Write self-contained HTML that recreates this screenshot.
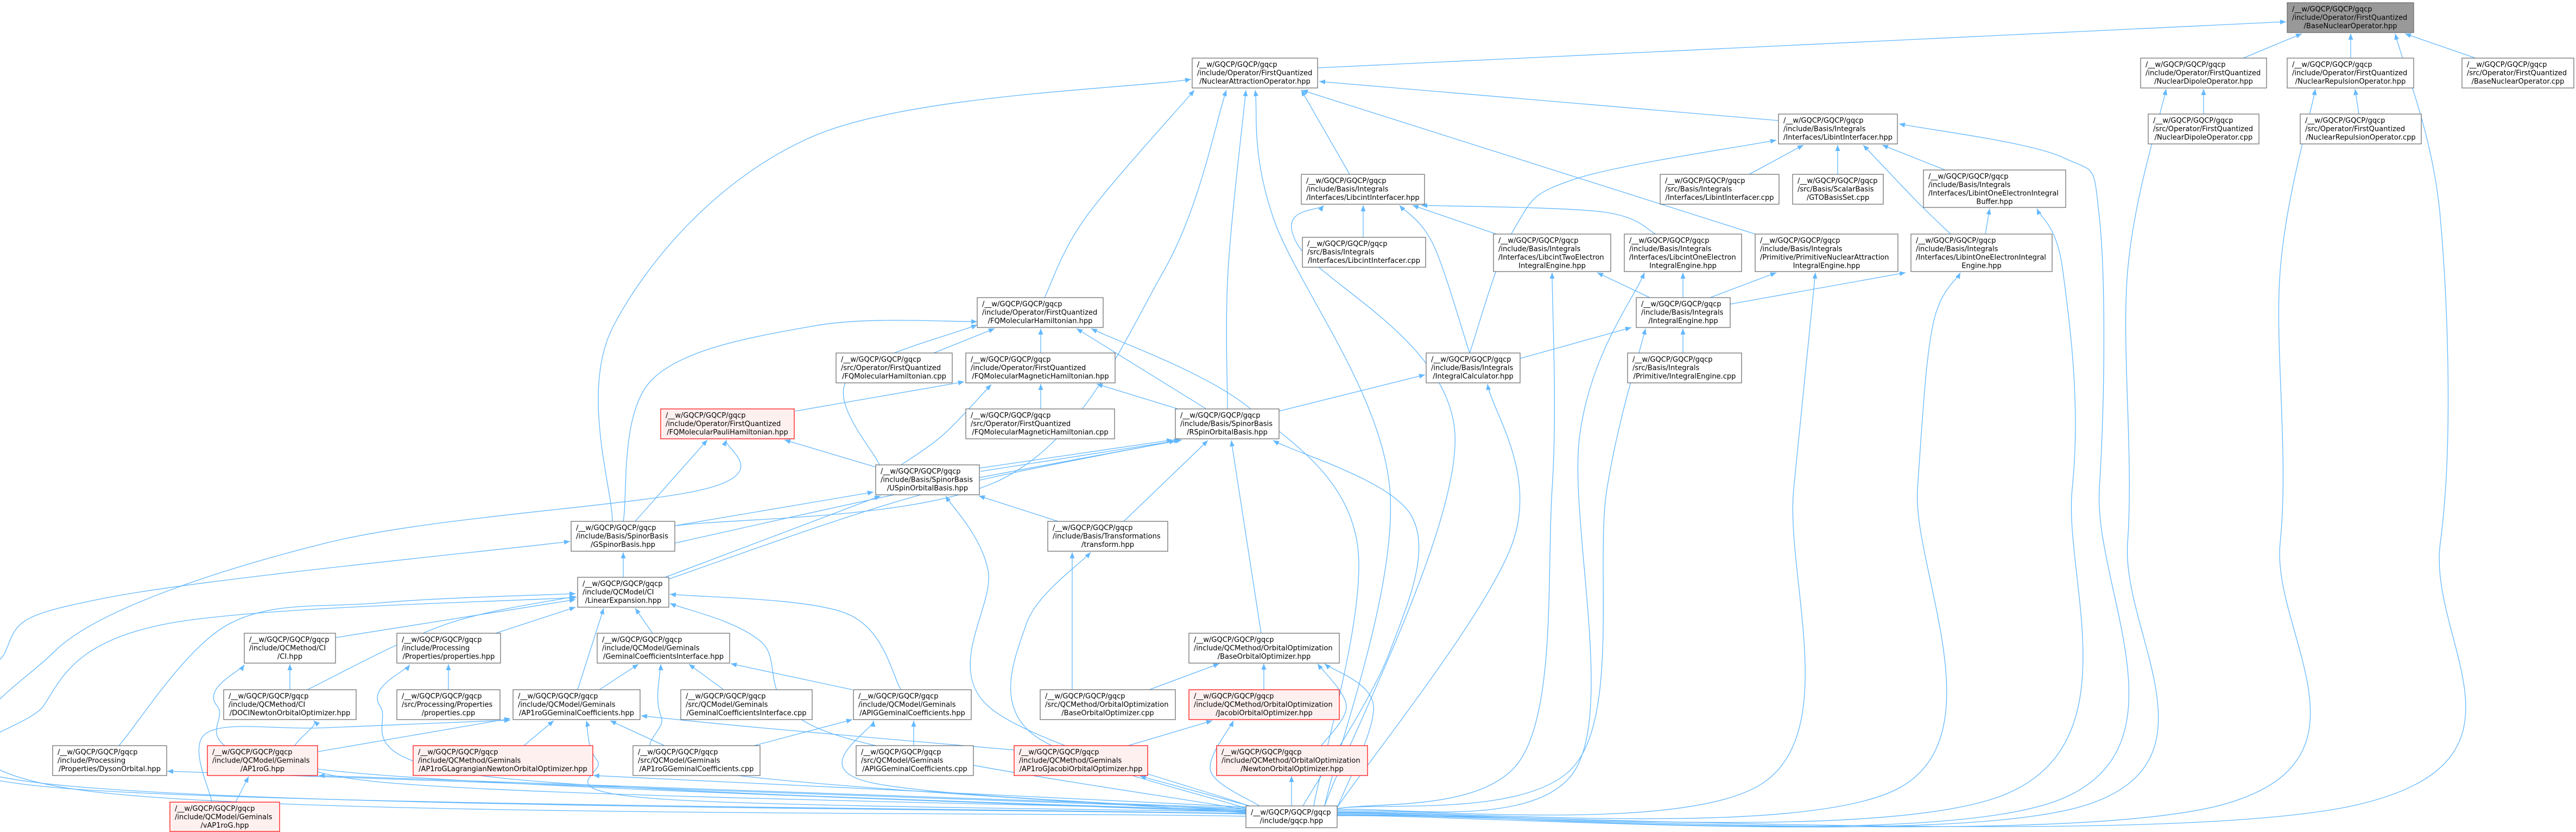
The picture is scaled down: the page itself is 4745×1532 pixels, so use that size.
<!DOCTYPE html>
<html><head><meta charset="utf-8">
<style>
html,body{margin:0;padding:0;background:#fff;}
svg{display:block;}
text{font-family:"DejaVu Sans","Liberation Sans",sans-serif;font-size:13px;fill:#000;}
.n{fill:#fff;stroke:#666;stroke-width:1.2;}
.r{fill:#fff0f0;stroke:#ff0000;stroke-width:1.2;}
.g{fill:#999;stroke:#666;stroke-width:1.2;}
.e{fill:none;stroke:#63b8ff;stroke-width:1.3;}
</style></head>
<body>
<svg id="s" width="4745" height="1532" viewBox="0 0 4745 1532" xmlns="http://www.w3.org/2000/svg">
<defs><marker id="a" markerUnits="userSpaceOnUse" markerWidth="11" markerHeight="9" refX="11" refY="4.5" orient="auto"><path d="M0,0 L11,4.5 L0,9 z" fill="#63b8ff"/></marker></defs>
<g id="edges"></g>
<g id="nodes">
<rect class="g" x="4213" y="5" width="233" height="55"/><text x="4222" y="21">/__w/GQCP/GQCP/gqcp</text><text x="4222" y="36.5">/include/Operator/FirstQuantized</text><text x="4329.5" y="52" text-anchor="middle">/BaseNuclearOperator.hpp</text>
<rect class="n" x="2196" y="107" width="231" height="55"/><text x="2205" y="123">/__w/GQCP/GQCP/gqcp</text><text x="2205" y="138.5">/include/Operator/FirstQuantized</text><text x="2311.5" y="154" text-anchor="middle">/NuclearAttractionOperator.hpp</text>
<rect class="n" x="3943" y="107" width="232" height="55"/><text x="3952" y="123">/__w/GQCP/GQCP/gqcp</text><text x="3952" y="138.5">/include/Operator/FirstQuantized</text><text x="4059" y="154" text-anchor="middle">/NuclearDipoleOperator.hpp</text>
<rect class="n" x="4213" y="107" width="233" height="55"/><text x="4222" y="123">/__w/GQCP/GQCP/gqcp</text><text x="4222" y="138.5">/include/Operator/FirstQuantized</text><text x="4329.5" y="154" text-anchor="middle">/NuclearRepulsionOperator.hpp</text>
<rect class="n" x="4535" y="107" width="206" height="55"/><text x="4544" y="123">/__w/GQCP/GQCP/gqcp</text><text x="4544" y="138.5">/src/Operator/FirstQuantized</text><text x="4638" y="154" text-anchor="middle">/BaseNuclearOperator.cpp</text>
<rect class="n" x="3276" y="210" width="219" height="55"/><text x="3285" y="226">/__w/GQCP/GQCP/gqcp</text><text x="3285" y="241.5">/include/Basis/Integrals</text><text x="3385.5" y="257" text-anchor="middle">/Interfaces/LibintInterfacer.hpp</text>
<rect class="n" x="3957" y="210" width="204" height="55"/><text x="3966" y="226">/__w/GQCP/GQCP/gqcp</text><text x="3966" y="241.5">/src/Operator/FirstQuantized</text><text x="4059" y="257" text-anchor="middle">/NuclearDipoleOperator.cpp</text>
<rect class="n" x="4237" y="210" width="223" height="55"/><text x="4246" y="226">/__w/GQCP/GQCP/gqcp</text><text x="4246" y="241.5">/src/Operator/FirstQuantized</text><text x="4348.5" y="257" text-anchor="middle">/NuclearRepulsionOperator.cpp</text>
<rect class="n" x="2397" y="321" width="227" height="55"/><text x="2406" y="337">/__w/GQCP/GQCP/gqcp</text><text x="2406" y="352.5">/include/Basis/Integrals</text><text x="2510.5" y="368" text-anchor="middle">/Interfaces/LibcintInterfacer.hpp</text>
<rect class="n" x="3058" y="321" width="219" height="55"/><text x="3067" y="337">/__w/GQCP/GQCP/gqcp</text><text x="3067" y="352.5">/src/Basis/Integrals</text><text x="3167.5" y="368" text-anchor="middle">/Interfaces/LibintInterfacer.cpp</text>
<rect class="n" x="3302" y="321" width="167" height="55"/><text x="3311" y="337">/__w/GQCP/GQCP/gqcp</text><text x="3311" y="352.5">/src/Basis/ScalarBasis</text><text x="3385.5" y="368" text-anchor="middle">/GTOBasisSet.cpp</text>
<rect class="n" x="3543" y="313" width="262" height="69"/><text x="3552" y="329">/__w/GQCP/GQCP/gqcp</text><text x="3552" y="344.5">/include/Basis/Integrals</text><text x="3552" y="360">/Interfaces/LibintOneElectronIntegral</text><text x="3674" y="375.5" text-anchor="middle">Buffer.hpp</text>
<rect class="n" x="2399" y="437" width="227" height="55"/><text x="2408" y="453">/__w/GQCP/GQCP/gqcp</text><text x="2408" y="468.5">/src/Basis/Integrals</text><text x="2512.5" y="484" text-anchor="middle">/Interfaces/LibcintInterfacer.cpp</text>
<rect class="n" x="2751" y="431" width="216" height="69"/><text x="2760" y="447">/__w/GQCP/GQCP/gqcp</text><text x="2760" y="462.5">/include/Basis/Integrals</text><text x="2760" y="478">/Interfaces/LibcintTwoElectron</text><text x="2859" y="493.5" text-anchor="middle">IntegralEngine.hpp</text>
<rect class="n" x="2992" y="431" width="216" height="69"/><text x="3001" y="447">/__w/GQCP/GQCP/gqcp</text><text x="3001" y="462.5">/include/Basis/Integrals</text><text x="3001" y="478">/Interfaces/LibcintOneElectron</text><text x="3100" y="493.5" text-anchor="middle">IntegralEngine.hpp</text>
<rect class="n" x="3233" y="431" width="263" height="69"/><text x="3242" y="447">/__w/GQCP/GQCP/gqcp</text><text x="3242" y="462.5">/include/Basis/Integrals</text><text x="3242" y="478">/Primitive/PrimitiveNuclearAttraction</text><text x="3364.5" y="493.5" text-anchor="middle">IntegralEngine.hpp</text>
<rect class="n" x="3520" y="431" width="260" height="69"/><text x="3529" y="447">/__w/GQCP/GQCP/gqcp</text><text x="3529" y="462.5">/include/Basis/Integrals</text><text x="3529" y="478">/Interfaces/LibintOneElectronIntegral</text><text x="3650" y="493.5" text-anchor="middle">Engine.hpp</text>
<rect class="n" x="1800" y="548" width="232" height="55"/><text x="1809" y="564">/__w/GQCP/GQCP/gqcp</text><text x="1809" y="579.5">/include/Operator/FirstQuantized</text><text x="1916" y="595" text-anchor="middle">/FQMolecularHamiltonian.hpp</text>
<rect class="n" x="3014" y="548" width="173" height="55"/><text x="3023" y="564">/__w/GQCP/GQCP/gqcp</text><text x="3023" y="579.5">/include/Basis/Integrals</text><text x="3100.5" y="595" text-anchor="middle">/IntegralEngine.hpp</text>
<rect class="n" x="1540" y="650" width="214" height="55"/><text x="1549" y="666">/__w/GQCP/GQCP/gqcp</text><text x="1549" y="681.5">/src/Operator/FirstQuantized</text><text x="1647" y="697" text-anchor="middle">/FQMolecularHamiltonian.cpp</text>
<rect class="n" x="1779" y="650" width="275" height="55"/><text x="1788" y="666">/__w/GQCP/GQCP/gqcp</text><text x="1788" y="681.5">/include/Operator/FirstQuantized</text><text x="1916.5" y="697" text-anchor="middle">/FQMolecularMagneticHamiltonian.hpp</text>
<rect class="n" x="2627" y="650" width="173" height="55"/><text x="2636" y="666">/__w/GQCP/GQCP/gqcp</text><text x="2636" y="681.5">/include/Basis/Integrals</text><text x="2713.5" y="697" text-anchor="middle">/IntegralCalculator.hpp</text>
<rect class="n" x="2998" y="650" width="210" height="55"/><text x="3007" y="666">/__w/GQCP/GQCP/gqcp</text><text x="3007" y="681.5">/src/Basis/Integrals</text><text x="3103" y="697" text-anchor="middle">/Primitive/IntegralEngine.cpp</text>
<rect class="r" x="1217" y="753" width="246" height="55"/><text x="1226" y="769">/__w/GQCP/GQCP/gqcp</text><text x="1226" y="784.5">/include/Operator/FirstQuantized</text><text x="1340" y="800" text-anchor="middle">/FQMolecularPauliHamiltonian.hpp</text>
<rect class="n" x="1779" y="753" width="274" height="55"/><text x="1788" y="769">/__w/GQCP/GQCP/gqcp</text><text x="1788" y="784.5">/src/Operator/FirstQuantized</text><text x="1916" y="800" text-anchor="middle">/FQMolecularMagneticHamiltonian.cpp</text>
<rect class="n" x="2165" y="753" width="191" height="55"/><text x="2174" y="769">/__w/GQCP/GQCP/gqcp</text><text x="2174" y="784.5">/include/Basis/SpinorBasis</text><text x="2260.5" y="800" text-anchor="middle">/RSpinOrbitalBasis.hpp</text>
<rect class="n" x="1613" y="856" width="191" height="55"/><text x="1622" y="872">/__w/GQCP/GQCP/gqcp</text><text x="1622" y="887.5">/include/Basis/SpinorBasis</text><text x="1708.5" y="903" text-anchor="middle">/USpinOrbitalBasis.hpp</text>
<rect class="n" x="1052" y="960" width="191" height="55"/><text x="1061" y="976">/__w/GQCP/GQCP/gqcp</text><text x="1061" y="991.5">/include/Basis/SpinorBasis</text><text x="1147.5" y="1007" text-anchor="middle">/GSpinorBasis.hpp</text>
<rect class="n" x="1930" y="960" width="221" height="55"/><text x="1939" y="976">/__w/GQCP/GQCP/gqcp</text><text x="1939" y="991.5">/include/Basis/Transformations</text><text x="2040.5" y="1007" text-anchor="middle">/transform.hpp</text>
<rect class="n" x="1064" y="1063" width="168" height="55"/><text x="1073" y="1079">/__w/GQCP/GQCP/gqcp</text><text x="1073" y="1094.5">/include/QCModel/CI</text><text x="1148" y="1110" text-anchor="middle">/LinearExpansion.hpp</text>
<rect class="n" x="450" y="1166" width="168" height="55"/><text x="459" y="1182">/__w/GQCP/GQCP/gqcp</text><text x="459" y="1197.5">/include/QCMethod/CI</text><text x="534" y="1213" text-anchor="middle">/CI.hpp</text>
<rect class="n" x="731" y="1166" width="191" height="55"/><text x="740" y="1182">/__w/GQCP/GQCP/gqcp</text><text x="740" y="1197.5">/include/Processing</text><text x="826.5" y="1213" text-anchor="middle">/Properties/properties.hpp</text>
<rect class="n" x="1100" y="1166" width="244" height="55"/><text x="1109" y="1182">/__w/GQCP/GQCP/gqcp</text><text x="1109" y="1197.5">/include/QCModel/Geminals</text><text x="1222" y="1213" text-anchor="middle">/GeminalCoefficientsInterface.hpp</text>
<rect class="n" x="2190" y="1166" width="277" height="55"/><text x="2199" y="1182">/__w/GQCP/GQCP/gqcp</text><text x="2199" y="1197.5">/include/QCMethod/OrbitalOptimization</text><text x="2328.5" y="1213" text-anchor="middle">/BaseOrbitalOptimizer.hpp</text>
<rect class="n" x="412" y="1270" width="244" height="55"/><text x="421" y="1286">/__w/GQCP/GQCP/gqcp</text><text x="421" y="1301.5">/include/QCMethod/CI</text><text x="534" y="1317" text-anchor="middle">/DOCINewtonOrbitalOptimizer.hpp</text>
<rect class="n" x="731" y="1270" width="190" height="55"/><text x="740" y="1286">/__w/GQCP/GQCP/gqcp</text><text x="740" y="1301.5">/src/Processing/Properties</text><text x="826" y="1317" text-anchor="middle">/properties.cpp</text>
<rect class="n" x="945" y="1270" width="234" height="55"/><text x="954" y="1286">/__w/GQCP/GQCP/gqcp</text><text x="954" y="1301.5">/include/QCModel/Geminals</text><text x="1062" y="1317" text-anchor="middle">/AP1roGGeminalCoefficients.hpp</text>
<rect class="n" x="1254" y="1270" width="242" height="55"/><text x="1263" y="1286">/__w/GQCP/GQCP/gqcp</text><text x="1263" y="1301.5">/src/QCModel/Geminals</text><text x="1375" y="1317" text-anchor="middle">/GeminalCoefficientsInterface.cpp</text>
<rect class="n" x="1572" y="1270" width="217" height="55"/><text x="1581" y="1286">/__w/GQCP/GQCP/gqcp</text><text x="1581" y="1301.5">/include/QCModel/Geminals</text><text x="1680.5" y="1317" text-anchor="middle">/APIGGeminalCoefficients.hpp</text>
<rect class="n" x="1916" y="1270" width="249" height="55"/><text x="1925" y="1286">/__w/GQCP/GQCP/gqcp</text><text x="1925" y="1301.5">/src/QCMethod/OrbitalOptimization</text><text x="2040.5" y="1317" text-anchor="middle">/BaseOrbitalOptimizer.cpp</text>
<rect class="r" x="2190" y="1270" width="277" height="55"/><text x="2199" y="1286">/__w/GQCP/GQCP/gqcp</text><text x="2199" y="1301.5">/include/QCMethod/OrbitalOptimization</text><text x="2328.5" y="1317" text-anchor="middle">/JacobiOrbitalOptimizer.hpp</text>
<rect class="n" x="97" y="1373" width="210" height="55"/><text x="106" y="1389">/__w/GQCP/GQCP/gqcp</text><text x="106" y="1404.5">/include/Processing</text><text x="202" y="1420" text-anchor="middle">/Properties/DysonOrbital.hpp</text>
<rect class="r" x="382" y="1373" width="203" height="55"/><text x="391" y="1389">/__w/GQCP/GQCP/gqcp</text><text x="391" y="1404.5">/include/QCModel/Geminals</text><text x="483.5" y="1420" text-anchor="middle">/AP1roG.hpp</text>
<rect class="r" x="761" y="1373" width="331" height="55"/><text x="770" y="1389">/__w/GQCP/GQCP/gqcp</text><text x="770" y="1404.5">/include/QCMethod/Geminals</text><text x="926.5" y="1420" text-anchor="middle">/AP1roGLagrangianNewtonOrbitalOptimizer.hpp</text>
<rect class="n" x="1166" y="1373" width="234" height="55"/><text x="1175" y="1389">/__w/GQCP/GQCP/gqcp</text><text x="1175" y="1404.5">/src/QCModel/Geminals</text><text x="1283" y="1420" text-anchor="middle">/AP1roGGeminalCoefficients.cpp</text>
<rect class="n" x="1577" y="1373" width="216" height="55"/><text x="1586" y="1389">/__w/GQCP/GQCP/gqcp</text><text x="1586" y="1404.5">/src/QCModel/Geminals</text><text x="1685" y="1420" text-anchor="middle">/APIGGeminalCoefficients.cpp</text>
<rect class="r" x="1868" y="1373" width="246" height="55"/><text x="1877" y="1389">/__w/GQCP/GQCP/gqcp</text><text x="1877" y="1404.5">/include/QCMethod/Geminals</text><text x="1991" y="1420" text-anchor="middle">/AP1roGJacobiOrbitalOptimizer.hpp</text>
<rect class="r" x="2241" y="1373" width="278" height="55"/><text x="2250" y="1389">/__w/GQCP/GQCP/gqcp</text><text x="2250" y="1404.5">/include/QCMethod/OrbitalOptimization</text><text x="2380" y="1420" text-anchor="middle">/NewtonOrbitalOptimizer.hpp</text>
<rect class="r" x="313" y="1477" width="202" height="54"/><text x="322" y="1493">/__w/GQCP/GQCP/gqcp</text><text x="322" y="1508.5">/include/QCModel/Geminals</text><text x="414" y="1524" text-anchor="middle">/vAP1roG.hpp</text>
<rect class="n" x="2295" y="1484" width="168" height="40"/><text x="2304" y="1500">/__w/GQCP/GQCP/gqcp</text><text x="2379" y="1515.5" text-anchor="middle">/include/gqcp.hpp</text>
</g>
</svg>
<script>
var E=[
[2427,125,4211,40],[4132,107,4240,62],[4330,107,4330,62],[4560,107,4430,62],
[2463,1500,4412,62,[[4350,1480],[4495,1000],[4495,400]]],
[4059,210,4059,164],
[2463,1502,3990,164,[[3850,1480],[3919,1000],[3919,500]]],
[4345,210,4338,164],
[2463,1501,4265,164,[[4100,1480],[4200,1000],[4200,500]]],
[3276,222,2430,150],[2486,321,2397,166],[3233,431,2398,166],
[1924,548,2200,166,[[2000,400]]],
[1246,968,2259,166,[[1850,880],[2143,500]]],
[2261,753,2295,166,[[2262,500]]],
[2440,1484,2312,166,[[2560,900],[2345,400]]],
[1128,960,2194,146,[[1130,600],[1500,250]]],
[3222,321,3322,267],[3385,321,3385,267],[3583,313,3467,267],
[3593,431,3432,267,[[3530,370]]],
[2707,650,3272,258,[[2790,420],[2900,330]]],
[2463,1498,3498,228,[[3800,1470],[3867,900],[3867,400],[3800,290]]],
[2511,437,2511,378],
[2707,650,2578,378,[[2640,450]]],
[2756,431,2602,378],
[3050,431,2618,378,[[2950,390]]],
[2440,1484,2438,378,[[2680,800],[2390,450]]],
[3039,548,2942,502],[3100,548,3100,502],[3150,548,3272,502],[3187,560,3510,502],
[2463,1490,2859,502,[[2800,1400],[2859,900]]],
[2463,1492,3029,502,[[2900,1420],[2910,800]]],
[2463,1494,3344,502,[[3250,1440],[3304,900]]],
[2463,1496,3611,502,[[3500,1450],[3532,900],[3560,600]]],
[3657,431,3665,384],
[2463,1497,3752,384,[[3700,1460],[3817,900],[3800,500]]],
[3100,650,3100,605],[2800,660,3005,603],
[2463,1489,3031,605,[[2900,1410],[2960,900]]],
[2356,757,2625,690],
[2463,1487,2740,707,[[2786,1000]]],
[1720,650,1832,605],[1917,650,1917,605],[1917,753,1917,707],[2222,753,1983,605],
[2420,1484,2010,605,[[2500,1000],[2300,750]]],
[2170,753,2020,707],
[1660,856,1826,708,[[1738,800]]],
[1465,757,1776,703],
[1148,960,1800,592,[[1200,700],[1500,600]]],
[1620,856,1800,598,[[1560,700]]],
[1613,860,1445,810],[1170,960,1303,810],
[2295,1503,1338,810,[[150,1455],[100,1200],[600,1000],[1300,900]]],
[1804,862,2160,810],[1806,868,2165,812],
[1243,1000,2177,810,[[1700,900]]],
[1232,1066,2173,810,[[1700,910]]],
[1225,1063,1622,913],
[1243,968,1609,906],
[2070,960,2225,811],[1949,960,1803,913],[2323,1166,2268,811],
[2400,1484,2345,811,[[2560,1200],[2600,950]]],
[2300,1484,1742,913,[[1820,1300],[1820,1050]]],
[1975,1270,1975,1017],
[2300,1490,2009,1017,[[1900,1350],[1890,1150]]],
[2117,1270,2246,1222],[2328,1270,2328,1222],
[2434,1373,2427,1222,[[2480,1300]]],
[2463,1488,2440,1222,[[2530,1300]]],
[2078,1373,2233,1327],
[2320,1484,2272,1327,[[2230,1420]]],
[2379,1484,2379,1429],[2302,1484,2100,1429],
[1868,1381,1181,1318,[[1400,1340]]],
[965,1373,1020,1327],[1224,1373,1124,1327],
[2295,1495,1080,1327,[[1200,1470],[1100,1400]]],
[586,1384,940,1323],
[390,1477,940,1326,[[380,1350],[600,1340]]],
[434,1477,458,1430],
[1104,1270,1176,1223],[1333,1270,1269,1223],[1570,1270,1346,1222],
[2295,1497,1217,1223,[[1300,1420],[1218,1320]]],
[1683,1373,1683,1327],[1389,1373,1570,1325],
[2295,1493,1609,1327,[[1600,1440]]],
[1660,1270,1234,1094,[[1560,1130]]],
[2295,1491,1234,1111,[[1530,1350],[1400,1180]]],
[1202,1166,1170,1120],[1064,1270,1112,1120],[913,1166,1060,1118],[618,1174,1060,1104],
[566,1270,1060,1098,[[820,1150]]],
[219,1373,1060,1093,[[420,1150],[700,1110]]],
[1148,1063,1148,1017],
[2295,1499,1050,997,[[60,1440],[10,1200],[200,1100]]],
[2295,1498,1062,1100,[[100,1450],[80,1300],[300,1150]]],
[534,1270,534,1223],
[2295,1496,450,1224,[[620,1420],[400,1300]]],
[826,1270,826,1223],
[2295,1494,755,1224,[[900,1430],[700,1300]]],
[2295,1492,578,1327,[[700,1440]]],
[2295,1490,308,1420],[2295,1488,587,1428],[2295,1486,1093,1428]
];
var g=document.getElementById('edges'),ns='http://www.w3.org/2000/svg';
E.forEach(function(e){
 var p=[[e[0],e[1]]].concat(e[4]||[]).concat([[e[2],e[3]]]),d='M'+p[0][0]+','+p[0][1];
 if(p.length==2){d+=' L'+p[1][0]+','+p[1][1];}
 else{for(var i=0;i<p.length-1;i++){var a=p[i-1]||p[i],b=p[i],c=p[i+1],f=p[i+2]||c;
  d+=' C'+(b[0]+(c[0]-a[0])/6)+','+(b[1]+(c[1]-a[1])/6)+' '+(c[0]-(f[0]-b[0])/6)+','+(c[1]-(f[1]-b[1])/6)+' '+c[0]+','+c[1];}}
 var q=document.createElementNS(ns,'path');q.setAttribute('d',d);q.setAttribute('class','e');q.setAttribute('marker-end','url(#a)');g.appendChild(q);
});
</script>
</body></html>
